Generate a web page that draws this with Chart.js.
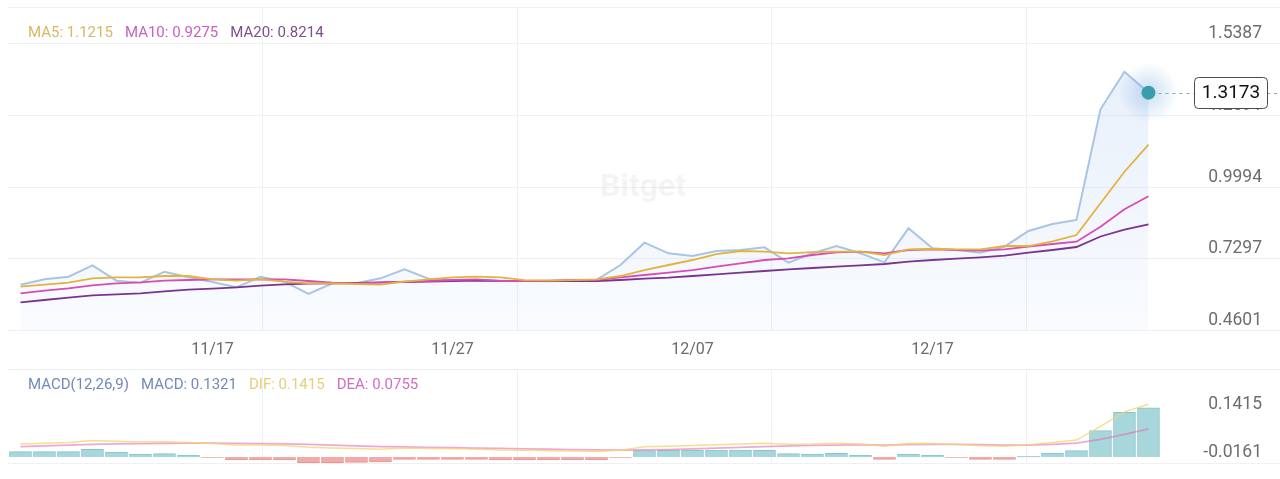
<!DOCTYPE html>
<html>
<head>
  <meta charset="utf-8">
  <title>Price with MA and MACD</title>
  <script src="https://cdn.jsdelivr.net/npm/chart.js"></script>
  <style>
    body { margin: 0; background: #fff; font-family: Roboto, sans-serif; }
    #wrap { position: relative; width: 1280px; height: 479px; overflow: hidden; }
    .panel { position: absolute; left: 0; width: 1280px; }
    #mainBox { top: 0; height: 366px; }
    #macdBox { top: 366px; height: 113px; }
    .legend { position: absolute; left: 28px; font-size: 15px; line-height: 18px; white-space: nowrap; z-index: 2; }
    .legend span { margin-right: 12px; }
    #mainLegend { top: 23px; }
    #macdLegend { top: 375px; }
    #watermark { position: absolute; left: 600px; top: 166px; font-size: 32px; font-weight: bold;
                 color: rgba(0, 0, 0, 0.045); z-index: 2; }
  </style>
</head>
<body>
  <div id="wrap">
    <div class="panel" id="mainBox"><canvas id="mainChart"></canvas></div>
    <div class="panel" id="macdBox"><canvas id="macdChart"></canvas></div>
    <div id="watermark">Bitget</div>
    <div class="legend" id="mainLegend"></div>
    <div class="legend" id="macdLegend"></div>
  </div>

  <script>
    // one point per day, 11/09 .. 12/26
    const dates = [
      '11/09', '11/10', '11/11', '11/12', '11/13', '11/14', '11/15', '11/16', '11/17', '11/18',
      '11/19', '11/20', '11/21', '11/22', '11/23', '11/24', '11/25', '11/26', '11/27', '11/28',
      '11/29', '11/30', '12/01', '12/02', '12/03', '12/04', '12/05', '12/06', '12/07', '12/08',
      '12/09', '12/10', '12/11', '12/12', '12/13', '12/14', '12/15', '12/16', '12/17', '12/18',
      '12/19', '12/20', '12/21', '12/22', '12/23', '12/24', '12/25', '12/26'
    ];
    const xTickLabels = ['11/17', '11/27', '12/07', '12/17'];

    const price = [
      0.5947, 0.6151, 0.6248, 0.6677, 0.6098, 0.6023, 0.6437, 0.6226, 0.6049, 0.5850,
      0.6248, 0.6060, 0.5598, 0.6000, 0.6000, 0.6188, 0.6527, 0.6170, 0.6130, 0.6120,
      0.6100, 0.6090, 0.6080, 0.6100, 0.6130, 0.6689, 0.7528, 0.7129, 0.7027, 0.7215,
      0.7253, 0.7354, 0.6775, 0.7129, 0.7403, 0.7129, 0.6790, 0.8069, 0.7317, 0.7253,
      0.7151, 0.7377, 0.7968, 0.8231, 0.8382, 1.2547, 1.3961, 1.3173
    ];
    const ma5 = [
      0.5872, 0.5947, 0.6023, 0.6188, 0.6226, 0.6226, 0.6275, 0.6275, 0.6151, 0.6098,
      0.6151, 0.6060, 0.6000, 0.6000, 0.5974, 0.5947, 0.6060, 0.6151, 0.6226, 0.6248,
      0.6226, 0.6122, 0.6098, 0.6122, 0.6151, 0.6275, 0.6500, 0.6689, 0.6877, 0.7102,
      0.7215, 0.7189, 0.7129, 0.7170, 0.7189, 0.7189, 0.7065, 0.7279, 0.7291, 0.7279,
      0.7279, 0.7403, 0.7403, 0.7580, 0.7817, 0.9010, 1.0199, 1.1215
    ];
    const ma10 = [
      0.5624, 0.5722, 0.5812, 0.5925, 0.6000, 0.6038, 0.6098, 0.6124, 0.6151, 0.6151,
      0.6151, 0.6151, 0.6087, 0.6023, 0.6000, 0.6023, 0.6060, 0.6087, 0.6124, 0.6151,
      0.6087, 0.6087, 0.6098, 0.6124, 0.6124, 0.6226, 0.6312, 0.6399, 0.6500, 0.6625,
      0.6753, 0.6877, 0.6941, 0.7065, 0.7166, 0.7189, 0.7129, 0.7253, 0.7279, 0.7253,
      0.7227, 0.7279, 0.7377, 0.7479, 0.7565, 0.8130, 0.8784, 0.9275
    ];
    const ma20 = [
      0.5285, 0.5372, 0.5458, 0.5549, 0.5586, 0.5624, 0.5699, 0.5759, 0.5797, 0.5850,
      0.5910, 0.5962, 0.5985, 0.6000, 0.6011, 0.6038, 0.6049, 0.6060, 0.6087, 0.6098,
      0.6087, 0.6087, 0.6087, 0.6087, 0.6087, 0.6124, 0.6173, 0.6211, 0.6275, 0.6339,
      0.6399, 0.6463, 0.6527, 0.6576, 0.6625, 0.6677, 0.6726, 0.6813, 0.6877, 0.6926,
      0.6978, 0.7038, 0.7151, 0.7253, 0.7366, 0.7761, 0.8024, 0.8214
    ];
    const priceTicks = [0.4601, 0.7297, 0.9994, 1.2691, 1.5387];

    const macd = [
      0.0143, 0.0143, 0.0143, 0.0206, 0.0134, 0.0081, 0.0090, 0.0045, -0.0010, -0.0081,
      -0.0081, -0.0081, -0.0152, -0.0152, -0.0143, -0.0134, -0.0063, -0.0063, -0.0063, -0.0063,
      -0.0081, -0.0081, -0.0081, -0.0081, -0.0081, -0.0010, 0.0170, 0.0188, 0.0188, 0.0188,
      0.0188, 0.0179, 0.0090, 0.0081, 0.0099, 0.0045, -0.0063, 0.0081, 0.0045, -0.0010,
      -0.0063, -0.0063, 0.0020, 0.0108, 0.0170, 0.0707, 0.1201, 0.1321
    ];
    const dif = [
      0.035, 0.037, 0.039, 0.044, 0.042, 0.040, 0.041, 0.039, 0.0365, 0.0325,
      0.032, 0.031, 0.026, 0.024, 0.023, 0.021, 0.024, 0.023, 0.022, 0.021,
      0.019, 0.018, 0.017, 0.016, 0.015, 0.018, 0.0275, 0.029, 0.031, 0.033,
      0.035, 0.037, 0.0345, 0.035, 0.037, 0.035, 0.029, 0.037, 0.036, 0.0335,
      0.030, 0.029, 0.033, 0.039, 0.0455, 0.082, 0.121, 0.1415
    ];
    const dea = [
      0.028, 0.030, 0.032, 0.034, 0.035, 0.036, 0.0365, 0.037, 0.037, 0.0365,
      0.036, 0.035, 0.034, 0.032, 0.030, 0.028, 0.027, 0.026, 0.025, 0.024,
      0.023, 0.022, 0.021, 0.020, 0.019, 0.0185, 0.019, 0.020, 0.022, 0.024,
      0.026, 0.028, 0.030, 0.031, 0.032, 0.033, 0.032, 0.033, 0.034, 0.034,
      0.033, 0.032, 0.032, 0.034, 0.037, 0.047, 0.061, 0.0755
    ];
    const macdTicks = [-0.0161, 0.1415];

    const last = arr => arr[arr.length - 1];
    const pts = arr => arr.map((v, i) => ({ x: i, y: v }));

    // legends (text from the last values)
    document.getElementById('mainLegend').innerHTML =
      '<span style="color:#d6b862">MA5: ' + last(ma5).toFixed(4) + '</span>' +
      '<span style="color:#c95fc0">MA10: ' + last(ma10).toFixed(4) + '</span>' +
      '<span style="color:#7e4f8c">MA20: ' + last(ma20).toFixed(4) + '</span>';
    document.getElementById('macdLegend').innerHTML =
      '<span style="color:#7189bb">MACD(12,26,9)</span>' +
      '<span style="color:#7189bb">MACD: ' + last(macd).toFixed(4) + '</span>' +
      '<span style="color:#e8cd7c">DIF: ' + last(dif).toFixed(4) + '</span>' +
      '<span style="color:#cf6fc3">DEA: ' + last(dea).toFixed(4) + '</span>';

    const GRID = '#eef0f3';
    const xRange = { min: -0.52, max: 52.48 }; // 24px per day, first day at x=20

    function drawVerticalGrid(ctx, a) {
      for (let k = 1; k < 5; k++) {
        const x = Math.round(a.left + a.width * k / 5) + 0.5;
        ctx.moveTo(x, a.top);
        ctx.lineTo(x, a.bottom);
      }
    }

    // grid lines of the price panel sit a little below their labels
    const mainGrid = {
      id: 'mainGrid',
      beforeDatasetsDraw(chart) {
        const { ctx, chartArea: a, scales } = chart;
        ctx.save();
        ctx.strokeStyle = GRID;
        ctx.lineWidth = 1;
        ctx.beginPath();
        drawVerticalGrid(ctx, a);
        const rows = [a.top].concat(scales.y.ticks.map(t => scales.y.getPixelForValue(t.value) + 9.5));
        rows.forEach(y => {
          y = Math.round(y) + 0.5;
          ctx.moveTo(a.left, y);
          ctx.lineTo(a.right, y);
        });
        ctx.stroke();
        ctx.restore();
      }
    };

    const macdGrid = {
      id: 'macdGrid',
      beforeDatasetsDraw(chart) {
        const { ctx, chartArea: a } = chart;
        ctx.save();
        ctx.strokeStyle = GRID;
        ctx.lineWidth = 1;
        ctx.beginPath();
        drawVerticalGrid(ctx, a);
        [a.top, a.bottom].forEach(y => {
          y = Math.round(y) + 0.5;
          ctx.moveTo(a.left, y);
          ctx.lineTo(a.right, y);
        });
        ctx.stroke();
        ctx.restore();
      }
    };

    // last price: dot with halo, dashed guide and value box
    const lastPrice = {
      id: 'lastPrice',
      afterDatasetsDraw(chart) {
        const { ctx } = chart;
        const idx = chart.data.datasets.findIndex(d => d.label === 'Price');
        const meta = chart.getDatasetMeta(idx);
        const pt = meta.data[meta.data.length - 1];
        const x = pt.x, y = pt.y;
        const boxW = 73, boxH = 31;
        const boxX = chart.width - 13 - boxW;

        ctx.save();
        const glow = ctx.createRadialGradient(x, y, 4, x, y, 30);
        glow.addColorStop(0, 'rgba(120, 170, 225, 0.35)');
        glow.addColorStop(1, 'rgba(120, 170, 225, 0)');
        ctx.fillStyle = glow;
        ctx.beginPath();
        ctx.arc(x, y, 30, 0, Math.PI * 2);
        ctx.fill();

        ctx.setLineDash([3, 4]);
        ctx.strokeStyle = '#8aa9b0';
        ctx.lineWidth = 1;
        ctx.beginPath();
        ctx.moveTo(x + 10, Math.round(y) + 0.5);
        ctx.lineTo(boxX, Math.round(y) + 0.5);
        ctx.moveTo(boxX + boxW, Math.round(y) + 0.5);
        ctx.lineTo(chart.width, Math.round(y) + 0.5);
        ctx.stroke();
        ctx.setLineDash([]);

        ctx.fillStyle = '#3a9dac';
        ctx.beginPath();
        ctx.arc(x, y, 7, 0, Math.PI * 2);
        ctx.fill();

        ctx.fillStyle = '#fff';
        ctx.strokeStyle = '#4a4a4a';
        ctx.beginPath();
        ctx.roundRect(boxX + 0.5, Math.round(y - boxH / 2) + 0.5, boxW, boxH, 4);
        ctx.fill();
        ctx.stroke();
        ctx.fillStyle = '#111';
        ctx.font = '19px Roboto';
        ctx.textAlign = 'center';
        ctx.textBaseline = 'middle';
        ctx.fillText(last(price).toFixed(4), boxX + boxW / 2 + 0.5, y + 1);
        ctx.restore();
      }
    };

    const line = (label, values, color, width, order) => ({
      label: label,
      data: pts(values),
      borderColor: color,
      borderWidth: width,
      pointRadius: 0,
      tension: 0,
      order: order
    });

    const priceSet = line('Price', price, '#a9c5e6', 2, 4);
    priceSet.fill = 'start';
    priceSet.backgroundColor = function(context) {
      const a = context.chart.chartArea;
      if (!a) return 'rgba(140, 180, 235, 0.1)';
      const g = context.chart.ctx.createLinearGradient(0, a.top, 0, a.bottom);
      g.addColorStop(0, 'rgba(140, 180, 235, 0.24)');
      g.addColorStop(1, 'rgba(140, 180, 235, 0.05)');
      return g;
    };

    new Chart(document.getElementById('mainChart'), {
      type: 'line',
      data: {
        datasets: [
          line('MA5', ma5, '#e2b43e', 1.8, 1),
          line('MA10', ma10, '#d84cb6', 1.8, 2),
          line('MA20', ma20, '#7a3490', 1.8, 3),
          priceSet
        ]
      },
      options: {
        responsive: true,
        maintainAspectRatio: false,
        animation: false,
        events: [],
        layout: { padding: { left: 8, right: 0, top: 7, bottom: 0 } },
        plugins: { legend: { display: false }, tooltip: { enabled: false } },
        scales: {
          x: {
            type: 'linear',
            bounds: 'data',
            min: xRange.min,
            max: xRange.max,
            afterBuildTicks: s => { s.ticks = xTickLabels.map(l => ({ value: dates.indexOf(l) })); },
            afterFit: s => { s.height = 36; },
            grid: { display: false, drawTicks: false },
            border: { display: false },
            ticks: {
              padding: 10,
              autoSkip: false,
              maxRotation: 0,
              color: '#6b6b6b',
              font: { family: 'Roboto', size: 16 },
              callback: v => dates[v]
            }
          },
          y: {
            position: 'right',
            bounds: 'data',
            min: 0.42436,
            max: 1.6395,
            afterBuildTicks: s => { s.ticks = priceTicks.map(v => ({ value: v })); },
            afterFit: s => { s.width = 0; },
            grid: { display: false, drawTicks: false },
            border: { display: false },
            ticks: {
              mirror: true,
              padding: -18,
              color: '#6e6e6e',
              font: { family: 'Roboto', size: 17.5 },
              callback: v => v.toFixed(4)
            }
          }
        }
      },
      plugins: [mainGrid, lastPrice]
    });

    new Chart(document.getElementById('macdChart'), {
      type: 'bar',
      data: {
        datasets: [
          Object.assign(line('DIF', dif, 'rgba(245, 212, 120, 0.8)', 1.5, 1), { type: 'line' }),
          Object.assign(line('DEA', dea, 'rgba(226, 112, 178, 0.6)', 1.8, 1), { type: 'line' }),
          {
            type: 'bar',
            label: 'MACD',
            data: pts(macd),
            backgroundColor: c => (c.raw && c.raw.y < 0) ? '#f2aba8' : '#a7d7db',
            borderColor: c => (c.raw && c.raw.y < 0) ? '#e7958f' : '#86c4cb',
            borderWidth: 1,
            barThickness: 22,
            order: 2
          }
        ]
      },
      options: {
        responsive: true,
        maintainAspectRatio: false,
        animation: false,
        events: [],
        layout: { padding: { left: 8, right: 0, top: 3, bottom: 16 } },
        plugins: { legend: { display: false }, tooltip: { enabled: false } },
        scales: {
          x: {
            type: 'linear',
            bounds: 'data',
            offset: false,
            min: xRange.min,
            max: xRange.max,
            display: false,
            grid: { offset: false }
          },
          y: {
            position: 'right',
            bounds: 'data',
            min: -0.0161,
            max: 0.2361,
            afterBuildTicks: s => { s.ticks = macdTicks.map(v => ({ value: v })); },
            afterFit: s => { s.width = 0; },
            grid: { display: false, drawTicks: false },
            border: { display: false },
            ticks: {
              mirror: true,
              padding: -18,
              color: '#6e6e6e',
              font: { family: 'Roboto', size: 17.5 },
              // the bottom label is lifted half a line so it stays inside the panel
              callback: (v, i) => i === 0 ? [v.toFixed(4), ''] : v.toFixed(4)
            }
          }
        }
      },
      plugins: [macdGrid]
    });
  </script>
</body>
</html>
